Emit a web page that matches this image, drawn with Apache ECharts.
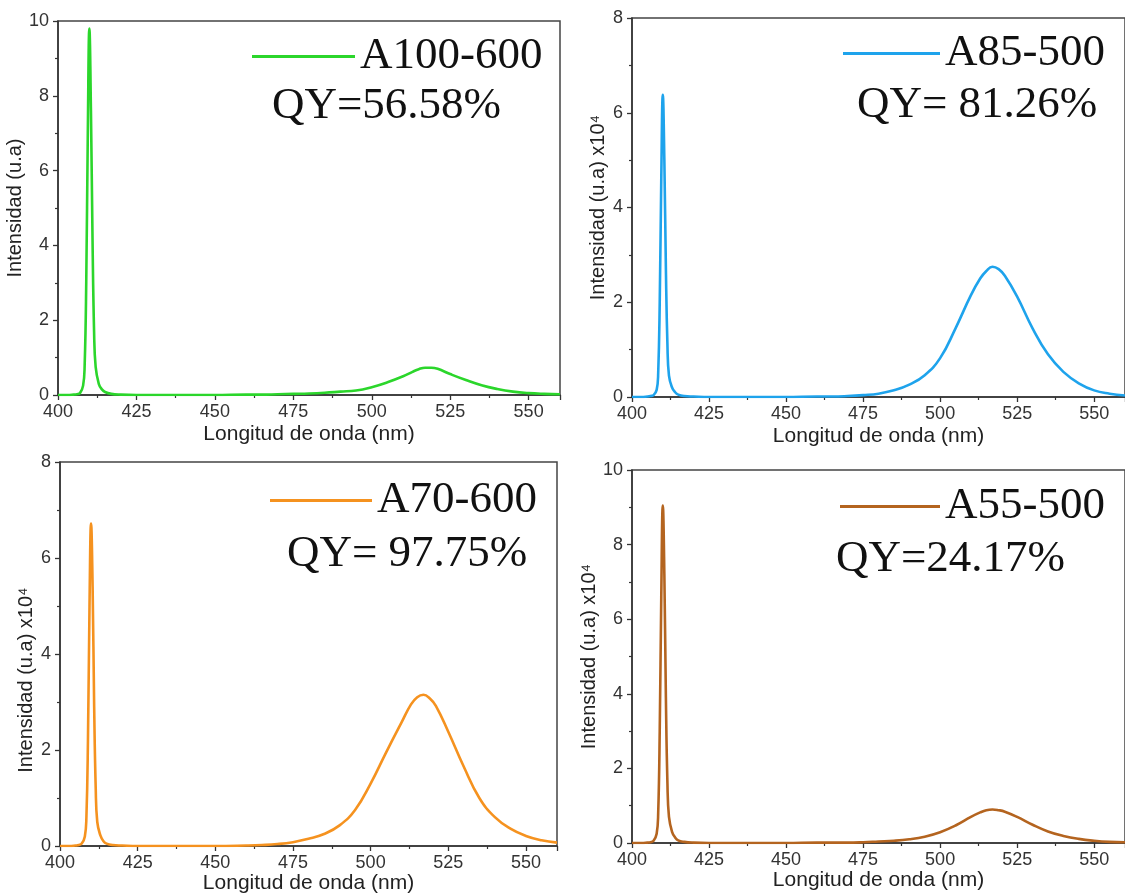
<!DOCTYPE html>
<html>
<head>
<meta charset="utf-8">
<script src="https://cdn.jsdelivr.net/npm/echarts@6/dist/echarts.min.js"></script>
<style>
  html, body { margin: 0; padding: 0; background: #fff; }
  #chart { width: 1125px; height: 895px; }
</style>
</head>
<body>
<div id="chart"></div>
<script>
// Wavelength samples (nm) shared by all four spectra
const wavelengths = [400, 403, 405, 406, 407, 408, 408.5, 409, 409.5, 410, 410.5, 411, 411.5, 412, 413, 414, 415, 417, 420, 425, 430, 440, 450, 460, 465, 470, 475, 480, 485, 490, 495, 500, 505, 510, 513, 515, 517, 519, 521, 525, 530, 535, 540, 545, 550, 555, 560];

// Emission intensities (u.a)
const a100_600 = [0, 0, 0.01, 0.02, 0.05, 0.25, 0.8, 3.0, 7.0, 9.8, 7.6, 4.2, 1.7, 0.75, 0.3, 0.15, 0.08, 0.03, 0.01, 0, 0, 0, 0, 0.01, 0.01, 0.02, 0.03, 0.04, 0.06, 0.09, 0.12, 0.21, 0.34, 0.50, 0.62, 0.69, 0.73, 0.73, 0.70, 0.56, 0.40, 0.26, 0.16, 0.09, 0.05, 0.03, 0.02];
// Emission intensities (u.a x10^4)
const a85_500 = [0, 0, 0.01, 0.02, 0.04, 0.15, 0.5, 2.0, 4.6, 6.38, 5.0, 2.7, 1.1, 0.45, 0.2, 0.1, 0.05, 0.02, 0.01, 0, 0, 0, 0, 0.01, 0.01, 0.02, 0.04, 0.07, 0.14, 0.26, 0.46, 0.82, 1.45, 2.15, 2.50, 2.66, 2.75, 2.70, 2.56, 2.12, 1.45, 0.90, 0.53, 0.29, 0.14, 0.07, 0.03];
const a70_600 = [0, 0, 0.01, 0.02, 0.05, 0.2, 0.6, 2.2, 5.0, 6.72, 5.4, 2.9, 1.2, 0.5, 0.22, 0.1, 0.05, 0.02, 0.01, 0, 0, 0, 0, 0.01, 0.02, 0.04, 0.08, 0.15, 0.25, 0.43, 0.75, 1.30, 1.95, 2.58, 2.95, 3.10, 3.15, 3.08, 2.92, 2.38, 1.65, 1.00, 0.60, 0.36, 0.21, 0.12, 0.07];
const a55_500 = [0, 0, 0.01, 0.02, 0.06, 0.25, 0.8, 3.0, 6.6, 9.05, 7.2, 3.9, 1.6, 0.7, 0.3, 0.15, 0.07, 0.03, 0.01, 0, 0, 0, 0, 0.01, 0.01, 0.01, 0.02, 0.04, 0.06, 0.10, 0.17, 0.29, 0.47, 0.70, 0.82, 0.88, 0.90, 0.88, 0.84, 0.70, 0.49, 0.31, 0.19, 0.11, 0.06, 0.03, 0.02];

const sampleNames = ['A100-600', 'A85-500', 'A70-600', 'A55-500'];
const quantumYields = ['QY=56.58%', 'QY= 81.26%', 'QY= 97.75%', 'QY=24.17%'];
const yAxisNames = ['Intensidad (u.a)', 'Intensidad (u.a) x10\u2074', 'Intensidad (u.a) x10\u2074', 'Intensidad (u.a) x10\u2074'];
const yMax = [10, 8, 8, 10];
const xAxisName = 'Longitud de onda (nm)';
const seriesValues = [a100_600, a85_500, a70_600, a55_500];

const colors = ['#2bd62b', '#1ea3ec', '#f5921f', '#b4641f'];

// panel boxes: left, top, width, height
const grids = [
  { left: 58, top: 21, width: 502, height: 374 },
  { left: 632, top: 18, width: 495, height: 379 },
  { left: 60, top: 462, width: 497, height: 385 },
  { left: 632, top: 470, width: 495, height: 373 }
];
const yNameGap = [28, 24, 24, 23];
// shifts the rotated y titles along their axis (positive = downwards)
const yNameShift = [0, 0, 26, 0];
const xNameGap = [29, 29, 27, 27];
const legendPos = [
  { left: 247, top: 29, width: 103 },
  { left: 838, top: 26, width: 97 },
  { left: 265, top: 473, width: 102 },
  { left: 835, top: 479, width: 100 }
];
const qyPos = [
  { left: 267, top: 79 },
  { left: 852, top: 78 },
  { left: 282, top: 527 },
  { left: 831, top: 532 }
];

const axisColor = '#333';
const sans = 'Liberation Sans, Arial, sans-serif';
const serif = 'Liberation Serif, Times New Roman, serif';

const option = {
  backgroundColor: '#fff',
  animation: false,
  grid: grids.map(g => Object.assign({ show: true, borderColor: '#444', borderWidth: 1.5, containLabel: false }, g)),
  xAxis: grids.map((g, i) => ({
    type: 'value',
    gridIndex: i,
    min: 400, max: 560, interval: 25,
    name: xAxisName,
    nameLocation: 'middle',
    nameGap: xNameGap[i],
    nameTextStyle: { fontFamily: sans, fontSize: 21, color: '#222' },
    axisLine: { show: true, onZero: false, lineStyle: { color: axisColor, width: 1.5 } },
    axisTick: { show: true, inside: false, length: 5, lineStyle: { color: axisColor, width: 1.3 } },
    minorTick: { show: true, splitNumber: 2, length: 3, lineStyle: { color: axisColor, width: 1.2 } },
    splitLine: { show: false },
    axisLabel: { fontFamily: sans, fontSize: 18, color: '#333', margin: 8, showMaxLabel: false }
  })),
  yAxis: grids.map((g, i) => ({
    type: 'value',
    gridIndex: i,
    min: 0, max: yMax[i], interval: 2,
    name: yAxisNames[i],
    nameLocation: 'middle',
    nameGap: yNameGap[i],
    nameRotate: 90,
    nameTextStyle: {
      fontFamily: sans, fontSize: 20, color: '#222',
      padding: yNameShift[i] > 0 ? [0, 2 * yNameShift[i], 0, 0] : 0
    },
    axisLine: { show: true, onZero: false, lineStyle: { color: axisColor, width: 1.5 } },
    axisTick: { show: true, inside: false, length: 5, lineStyle: { color: axisColor, width: 1.3 } },
    minorTick: { show: true, splitNumber: 2, length: 3, lineStyle: { color: axisColor, width: 1.2 } },
    splitLine: { show: false },
    axisLabel: { fontFamily: sans, fontSize: 18, color: '#333', margin: 9 }
  })),
  legend: legendPos.map((p, i) => ({
    data: [{ name: sampleNames[i], icon: 'rect' }],
    left: p.left, top: p.top,
    orient: 'horizontal',
    itemWidth: p.width, itemHeight: 3,
    selectedMode: false,
    textStyle: { fontFamily: serif, fontSize: 45, color: '#111' }
  })),
  title: qyPos.map((p, i) => ({
    text: quantumYields[i],
    left: p.left, top: p.top,
    textStyle: { fontFamily: serif, fontSize: 45, fontWeight: 'normal', color: '#111' }
  })),
  series: seriesValues.map((vals, i) => ({
    name: sampleNames[i],
    type: 'line',
    xAxisIndex: i,
    yAxisIndex: i,
    symbol: 'none',
    smooth: 0.45,
    color: colors[i],
    lineStyle: { color: colors[i], width: 2.6 },
    data: wavelengths.map((w, k) => [w, vals[k]])
  }))
};

const chart = echarts.init(document.getElementById('chart'), null, { renderer: 'canvas' });
chart.setOption(option);
</script>
</body>
</html>
